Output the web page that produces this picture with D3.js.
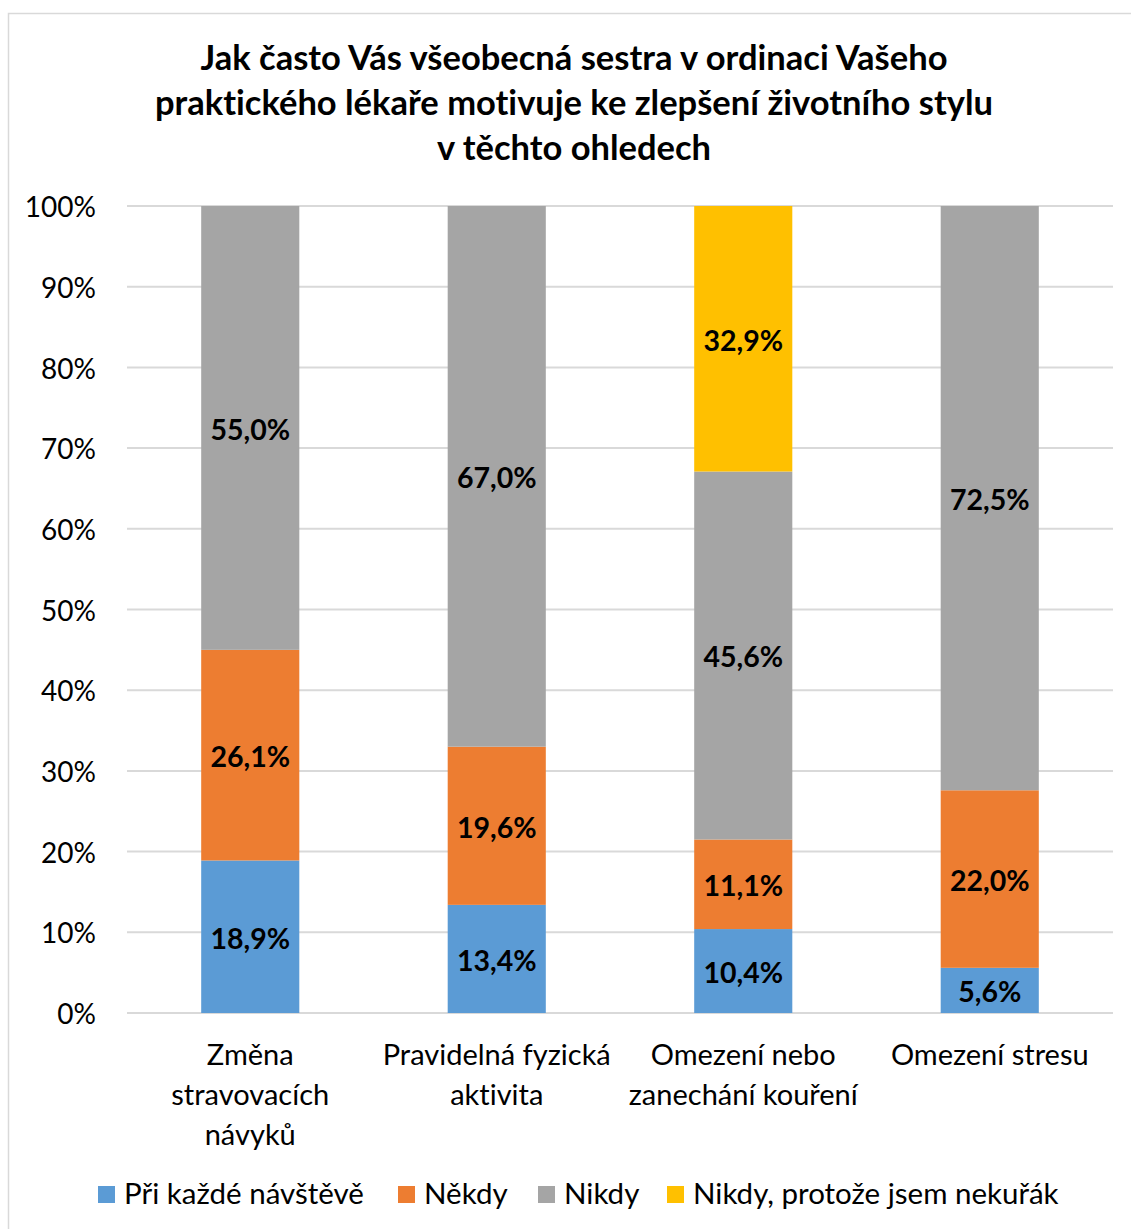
<!DOCTYPE html>
<html>
<head>
<meta charset="utf-8">
<script src="https://cdn.jsdelivr.net/npm/d3@7"></script>
<style>
  html, body { margin: 0; padding: 0; background: #fff; }
  svg { display: block; font-family: Lato, "Open Sans", sans-serif; font-variant-ligatures: none; }
</style>
</head>
<body>
<svg id="chart" width="1131" height="1229"></svg>
<script>
// Survey answers per lifestyle area (percent of respondents)
const categories = [
  ["Změna", "stravovacích", "návyků"],
  ["Pravidelná fyzická", "aktivita"],
  ["Omezení nebo", "zanechání kouření"],
  ["Omezení stresu"]
];
const seriesNames = ["Při každé návštěvě", "Někdy", "Nikdy", "Nikdy, protože jsem nekuřák"];
const everyVisit = [18.9, 13.4, 10.4, 5.6];
const sometimes  = [26.1, 19.6, 11.1, 22.0];
const never      = [55.0, 67.0, 45.6, 72.5];
const nonSmoker  = [0, 0, 32.9, 0];
const yTicks = [0, 10, 20, 30, 40, 50, 60, 70, 80, 90, 100];
const colors = ["#5B9BD5", "#ED7D31", "#A5A5A5", "#FFC000"];
const titleLines = [
  "Jak často Vás všeobecná sestra v ordinaci Vašeho",
  "praktického lékaře motivuje ke zlepšení životního stylu",
  "v těchto ohledech"
];

const FS = 29;      // body text size
const svg = d3.select("#chart");

// outer frame
svg.append("rect")
  .attr("x", 8.5).attr("y", 13.5)
  .attr("width", 1140).attr("height", 1240)
  .attr("fill", "none").attr("stroke", "#D9D9D9").attr("stroke-width", 1.5);

// title
svg.append("g").selectAll("text").data(titleLines).join("text")
  .attr("x", 574).attr("y", (d, i) => 70 + i * 45)
  .attr("text-anchor", "middle")
  .attr("font-size", 34.5).attr("font-weight", 700).attr("fill", "#000")
  .text(d => d);

const plot = { left: 127, right: 1113, top: 206, bottom: 1013 };

const x = d3.scaleBand()
  .domain(d3.range(categories.length))
  .range([plot.left, plot.right])
  .paddingInner(0.602).paddingOuter(0.301);

const y = d3.scaleLinear().domain([0, 100]).range([plot.bottom, plot.top]);

// gridlines
svg.append("g").selectAll("line").data(yTicks).join("line")
  .attr("x1", plot.left).attr("x2", plot.right)
  .attr("y1", d => y(d)).attr("y2", d => y(d))
  .attr("stroke", "#D9D9D9").attr("stroke-width", 2);

// y axis labels
const yAxis = d3.axisLeft(y).tickValues(yTicks).tickFormat(d => d + "%").tickSize(0).tickPadding(0);
const yg = svg.append("g").attr("transform", `translate(${plot.left - 31},0)`).call(yAxis);
yg.select(".domain").remove();
yg.selectAll("text").attr("font-size", 28).attr("font-family", "Lato, sans-serif").attr("fill", "#000")
  .attr("dy", "0.38em");

// stacked data
const rows = categories.map((c, i) => ({
  idx: i,
  s0: everyVisit[i], s1: sometimes[i], s2: never[i], s3: nonSmoker[i]
}));
const stack = d3.stack().keys(["s0", "s1", "s2", "s3"]);
const layers = stack(rows);

const layerG = svg.append("g").selectAll("g").data(layers).join("g")
  .attr("fill", (d, i) => colors[i]);

layerG.selectAll("rect").data(d => d).join("rect")
  .attr("x", d => x(d.data.idx))
  .attr("width", x.bandwidth())
  .attr("y", d => y(Math.min(d[1], 100)))
  .attr("height", d => Math.max(0, y(d[0]) - y(Math.min(d[1], 100))));

// value labels
const fmt = v => v.toFixed(1).replace(".", ",") + "%";
layerG.selectAll("text").data((d, li) => d.map(p => ({ p, v: p.data["s" + li] })).filter(o => o.v > 0))
  .join("text")
  .attr("x", o => x(o.p.data.idx) + x.bandwidth() / 2)
  .attr("y", o => y((o.p[0] + Math.min(o.p[1], 100)) / 2))
  .attr("dy", "0.42em")
  .attr("text-anchor", "middle")
  .attr("font-size", 28.5).attr("font-weight", 700).attr("fill", "#000")
  .text(o => fmt(o.v));

// category labels
const catG = svg.append("g").selectAll("text").data(categories).join("text")
  .attr("text-anchor", "middle")
  .attr("font-size", FS).attr("fill", "#000");
catG.selectAll("tspan").data((d, i) => d.map(line => ({ line, i }))).join("tspan")
  .attr("x", d => x(d.i) + x.bandwidth() / 2)
  .attr("y", (d, j) => 1065 + j * 40)
  .text(d => d.line);

// legend
const legendX = [98, 398, 538, 667];
const lg = svg.append("g").selectAll("g").data(seriesNames).join("g")
  .attr("transform", (d, i) => `translate(${legendX[i]},1186)`);
lg.append("rect").attr("width", 17).attr("height", 17).attr("fill", (d, i) => colors[i]);
lg.append("text").attr("x", 26).attr("y", 18).attr("font-size", 29.5).attr("fill", "#000").text(d => d);
</script>
</body>
</html>
